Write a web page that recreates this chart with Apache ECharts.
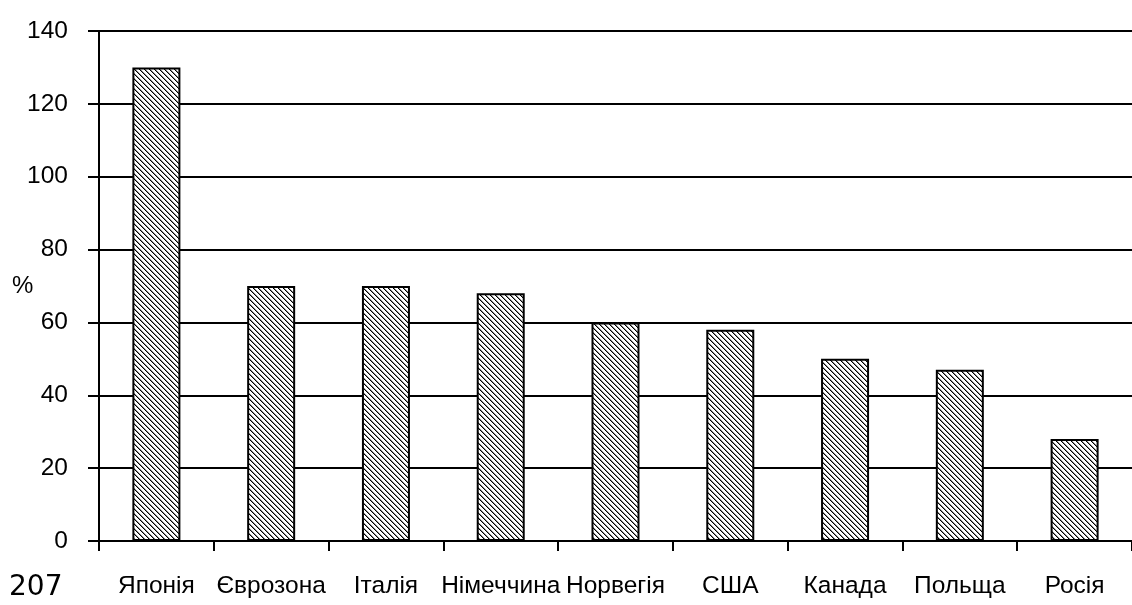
<!DOCTYPE html>
<html>
<head>
<meta charset="utf-8">
<script src="https://cdn.jsdelivr.net/npm/echarts@6/dist/echarts.min.js"></script>
<style>
html,body{margin:0;padding:0;background:#fff;}
#chart{width:1132px;height:605px;}
</style>
</head>
<body>
<div id="chart"></div>
<script>
const categories = ['Японія', 'Єврозона', 'Італія', 'Німеччина', 'Норвегія', 'США', 'Канада', 'Польща', 'Росія'];
const values = [130, 70, 70, 68, 60, 58, 50, 47, 28];
const yTicks = [0, 20, 40, 60, 80, 100, 120, 140];
const yAxisName = '%';
const pageNumber = '207';

// hatch pattern tile
const tile = document.createElement('canvas');
tile.width = 5; tile.height = 5;
const tc = tile.getContext('2d');
tc.fillStyle = '#ffffff';
tc.fillRect(0, 0, 5, 5);
for (let i = 0; i < 5; i++) {
  tc.fillStyle = '#000000';
  tc.fillRect(i, i, 1, 1);
  tc.fillStyle = '#8a8a8a';
  tc.fillRect((i + 1) % 5, i, 1, 1);
}

const FONT = '"Liberation Sans", Arial, sans-serif';

const chart = echarts.init(document.getElementById('chart'), null, { renderer: 'canvas' });
chart.setOption({
  animation: false,
  backgroundColor: '#ffffff',
  grid: { left: 99, top: 31, width: 1044, bottom: 64, containLabel: false },
  xAxis: {
    type: 'category',
    data: categories,
    boundaryGap: true,
    axisLine: { show: true, lineStyle: { color: '#000', width: 2 } },
    axisTick: { show: true, length: 10, lineStyle: { color: '#000', width: 2 } },
    axisLabel: { margin: 33, color: '#000', fontFamily: FONT, fontSize: 24.5, interval: 0 },
    splitLine: { show: false }
  },
  yAxis: {
    type: 'value',
    min: yTicks[0],
    max: yTicks[yTicks.length - 1],
    interval: yTicks[1] - yTicks[0],
    axisLine: { show: true, lineStyle: { color: '#000', width: 2 } },
    axisTick: { show: true, inside: false, length: 11, lineStyle: { color: '#000', width: 2 } },
    axisLabel: { margin: 31, color: '#000', fontFamily: FONT, fontSize: 24.5, padding: [0, 0, 6, 0] },
    splitLine: { show: true, lineStyle: { color: '#000', width: 2 } }
  },
  graphic: [
    { type: 'text', left: 12, top: 274, style: { text: yAxisName, fill: '#000', font: '24px "Liberation Sans", Arial, sans-serif' } },
    { type: 'text', left: 9, top: 574, style: { text: pageNumber, fill: '#000', font: '28px "DejaVu Sans", sans-serif' } }
  ],
  series: [{
    type: 'bar',
    data: values,
    barWidth: 48,
    itemStyle: {
      color: { image: tile, repeat: 'repeat' },
      borderColor: '#000',
      borderWidth: 2
    }
  }]
});
</script>
</body>
</html>
